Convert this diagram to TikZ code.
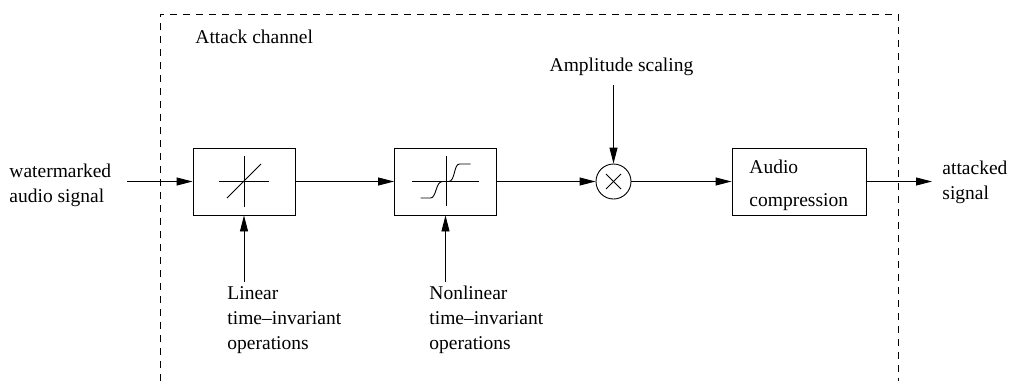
\documentclass[tikz,border=0pt]{standalone}
\usepackage{fontspec}
\setmainfont{Liberation Serif}
\usetikzlibrary{arrows.meta}

\begin{document}
\begin{tikzpicture}[x=1bp,y=-1bp,line width=0.9bp,
  >={Triangle[length=16bp,width=8bp]},
  every node/.style={font=\fontsize{19.5bp}{25bp}\selectfont},
  block/.style={shape=rectangle,draw,minimum width=102bp,minimum height=67bp,inner sep=0pt},
  lbl/.style={anchor=base west,align=left,inner sep=0pt}]
\useasboundingbox (0,0) rectangle (1009,381);

% attack channel frame, open at the bottom
\draw [dash pattern=on 7bp off 6bp,line width=0.7bp] (160,381) -- (160,14) -- (898,14) -- (898,381);
\path (195,43) node (chan) [lbl] {Attack channel};

\path (244,181.5) node (lti) [block] {};
\path (445.5,181.5) node (nlti) [block] {};
\path (613.5,181.5) node (mul) [shape=circle,draw,minimum size=35bp,inner sep=0pt] {};
\path (799,181.5) node (comp) [block,minimum width=134bp] {};
% base of a multi-line label sits on its last line
\path (749,206) node (comptxt) [lbl,font=\fontsize{19.5bp}{33bp}\selectfont] {Audio\\compression};

% linear characteristic
\begin{scope}[shift={(lti.center)}]
\draw (-25,0) -- (25,0);
\draw (0,-26) -- (0,25);
\draw (-17,16.5) -- (17,-17.5);
\end{scope}

% nonlinear characteristic
\begin{scope}[shift={(nlti.center)}]
\draw (-33.5,0) -- (33.5,0);
\draw (0.5,-25.5) -- (0.5,24.5);
\draw (-25,16.5) -- (-15,16.5) .. controls (-9,16.5) and (-10,0) .. (-3,0) -- (3,0)
  .. controls (10,0) and (8,-17.5) .. (14,-17.5) -- (25,-17.5);
\end{scope}

% multiplier
\draw (mul.center) ++(-7.5,-7.5) -- ++(15,15);
\draw (mul.center) ++(-7.5,7.5) -- ++(15,-15);

\coordinate (src) at (127,181.5);
\coordinate (dst) at (932,181.5);
\coordinate (ltiin) at (244,282);
\coordinate (nltiin) at (445.5,282);
\coordinate (gain) at (613.5,85);

\path (9,202) node (wm) [lbl] {watermarked\\audio signal};
\path (942,199) node (att) [lbl] {attacked\\signal};
\path (227,349) node (lin) [lbl] {Linear\\time–invariant\\operations};
\path (429,349) node (nlin) [lbl] {Nonlinear\\time–invariant\\operations};
\path (621.5,71) node (amp) [anchor=base,inner sep=0pt] {Amplitude scaling};

\draw [->] (src) -- (lti);
\draw [->] (lti) -- (nlti);
\draw [->] (nlti) -- (mul);
\draw [->] (mul) -- (comp);
\draw [->] (comp) -- (dst);
\draw [->] (ltiin) -- (lti);
\draw [->] (nltiin) -- (nlti);
\draw [->] (gain) -- (mul);

\end{tikzpicture}
\end{document}
